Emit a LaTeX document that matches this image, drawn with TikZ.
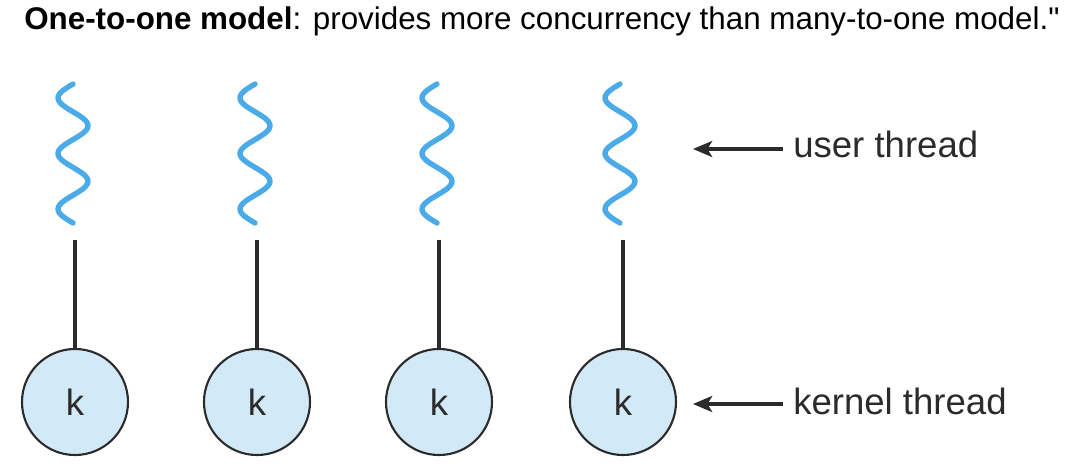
\documentclass[tikz,border=0pt]{standalone}
\usepackage{fontspec}
\setmainfont{Liberation Sans}
\usetikzlibrary{arrows.meta}

\definecolor{wavecol}{HTML}{4AABE8}
\definecolor{kfill}{HTML}{D2E9F8}
\definecolor{inkgray}{HTML}{2B2B2B}

\begin{document}
\begin{tikzpicture}[x=0.025cm, y=-0.025cm,
  % kernel thread circles
  kcircle/.style={draw=inkgray, line width=1.5pt, fill=kfill, circle,
                  minimum size=2.65cm, inner sep=0pt, font=\fontsize{26}{31}\selectfont,
                  text=inkgray},
  % user thread squiggles and their stubs
  wave/.style={draw=wavecol, line width=3.8pt, line cap=round},
  stub/.style={draw=inkgray, line width=2.4pt},
  % side labels with their arrows
  sidelabel/.style={anchor=base west, inner xsep=0.25cm, inner ysep=0pt,
                    font=\fontsize{26}{31}\selectfont, text=inkgray},
  pointer/.style={-{Stealth[length=0.48cm, width=0.4cm, inset=0.12cm]},
                  line width=2.4pt, draw=inkgray}
]
  \useasboundingbox (0,0) rectangle (1074,474);

  % Title
  \node[anchor=base west, inner sep=0pt, font=\fontsize{22.3}{26}\selectfont] (title) at (24,29)
    {\textbf{One-to-one model}: provides more concurrency than many-to-one model.\textquotedbl};

  % Kernel threads
  \node[kcircle] (k1) at (75,402) {k};
  \node[kcircle] (k2) at (257,402) {k};
  \node[kcircle] (k3) at (439,402) {k};
  \node[kcircle] (k4) at (623,402) {k};

  % Top ends of the user threads
  \coordinate (w1) at (73,84);
  \coordinate (w2) at (255,84);
  \coordinate (w3) at (437,84);
  \coordinate (w4) at (620,84);

  % Squiggles (2.5 periods each)
  \draw[wave, shift={(w1)}] plot[domain=0:139, samples=70, smooth] ({-15*sin(6.475*\x)}, \x);
  \draw[wave, shift={(w2)}] plot[domain=0:139, samples=70, smooth] ({-15*sin(6.475*\x)}, \x);
  \draw[wave, shift={(w3)}] plot[domain=0:139, samples=70, smooth] ({-15*sin(6.475*\x)}, \x);
  \draw[wave, shift={(w4)}] plot[domain=0:139, samples=70, smooth] ({-15*sin(6.475*\x)}, \x);

  % One kernel thread per user thread
  \coordinate (u1) at (75,240);
  \coordinate (u2) at (257,240);
  \coordinate (u3) at (439,240);
  \coordinate (u4) at (623,240);
  \draw[stub] (u1) -- (k1);
  \draw[stub] (u2) -- (k2);
  \draw[stub] (u3) -- (k3);
  \draw[stub] (u4) -- (k4);

  % Side labels
  \node[sidelabel] (userlbl) at (783,157) {user thread};
  \node[sidelabel] (kernlbl) at (783,414) {kernel thread};
  \coordinate (utip) at (693,149);
  \coordinate (ktip) at (693,404);
  \draw[pointer] (utip -| userlbl.west) -- (utip);
  \draw[pointer] (ktip -| kernlbl.west) -- (ktip);

\end{tikzpicture}
\end{document}
